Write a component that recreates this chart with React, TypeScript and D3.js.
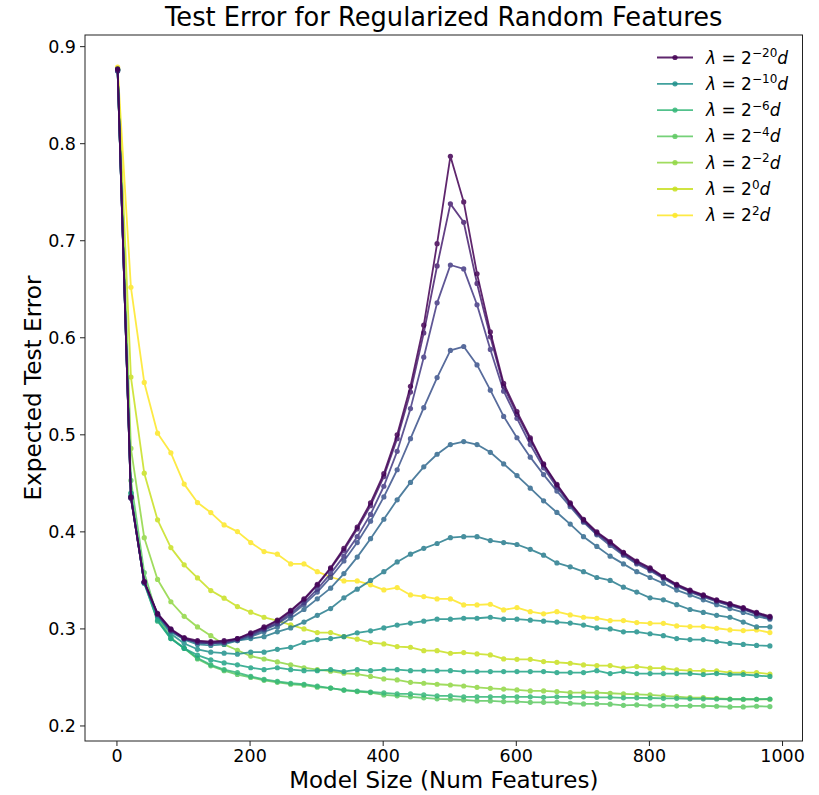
import React from "react";
import * as d3 from "d3";

const modelSizes = [1, 21, 41, 61, 81, 101, 121, 141, 161, 181, 201, 221, 241, 261, 281, 301, 321, 341, 361, 381, 401, 421, 441, 461, 481, 501, 521, 541, 561, 581, 601, 621, 641, 661, 681, 701, 721, 741, 761, 781, 801, 821, 841, 861, 881, 901, 921, 941, 961, 981];

const serA = [0.877, 0.436, 0.349, 0.316, 0.300, 0.291, 0.288, 0.287, 0.288, 0.290, 0.296, 0.302, 0.309, 0.319, 0.331, 0.346, 0.363, 0.383, 0.405, 0.430, 0.460, 0.500, 0.550, 0.613, 0.697, 0.787, 0.740, 0.666, 0.606, 0.553, 0.524, 0.497, 0.470, 0.449, 0.430, 0.413, 0.400, 0.390, 0.379, 0.370, 0.363, 0.354, 0.346, 0.340, 0.335, 0.330, 0.326, 0.322, 0.317, 0.313];
const serB = [0.876, 0.435, 0.348, 0.315, 0.299, 0.290, 0.287, 0.286, 0.287, 0.290, 0.295, 0.301, 0.308, 0.318, 0.330, 0.345, 0.362, 0.381, 0.403, 0.427, 0.457, 0.496, 0.544, 0.605, 0.674, 0.738, 0.719, 0.656, 0.601, 0.550, 0.521, 0.495, 0.469, 0.448, 0.429, 0.412, 0.399, 0.389, 0.378, 0.369, 0.362, 0.353, 0.345, 0.339, 0.334, 0.329, 0.325, 0.321, 0.316, 0.312];
const serC = [0.876, 0.435, 0.348, 0.315, 0.299, 0.290, 0.286, 0.285, 0.286, 0.289, 0.294, 0.300, 0.306, 0.316, 0.327, 0.341, 0.357, 0.375, 0.395, 0.418, 0.447, 0.483, 0.527, 0.580, 0.636, 0.675, 0.671, 0.634, 0.588, 0.545, 0.517, 0.490, 0.466, 0.446, 0.428, 0.411, 0.398, 0.388, 0.377, 0.368, 0.361, 0.353, 0.345, 0.339, 0.334, 0.329, 0.325, 0.321, 0.316, 0.312];
const serD = [0.875, 0.435, 0.348, 0.315, 0.299, 0.290, 0.286, 0.285, 0.286, 0.289, 0.293, 0.299, 0.305, 0.314, 0.325, 0.338, 0.353, 0.370, 0.389, 0.411, 0.436, 0.464, 0.496, 0.528, 0.559, 0.587, 0.591, 0.572, 0.546, 0.519, 0.497, 0.477, 0.459, 0.442, 0.426, 0.410, 0.397, 0.386, 0.376, 0.367, 0.360, 0.352, 0.344, 0.338, 0.333, 0.328, 0.324, 0.320, 0.315, 0.311];
const serE = [0.875, 0.436, 0.348, 0.315, 0.298, 0.290, 0.286, 0.285, 0.286, 0.288, 0.292, 0.297, 0.302, 0.311, 0.320, 0.331, 0.342, 0.357, 0.374, 0.393, 0.413, 0.433, 0.451, 0.467, 0.480, 0.490, 0.493, 0.490, 0.482, 0.470, 0.458, 0.445, 0.432, 0.420, 0.408, 0.395, 0.385, 0.375, 0.367, 0.359, 0.353, 0.347, 0.340, 0.335, 0.330, 0.325, 0.321, 0.317, 0.313, 0.310];
const serF = [0.876, 0.436, 0.348, 0.314, 0.297, 0.289, 0.284, 0.283, 0.284, 0.288, 0.290, 0.292, 0.297, 0.301, 0.307, 0.314, 0.321, 0.332, 0.341, 0.350, 0.359, 0.369, 0.377, 0.383, 0.388, 0.394, 0.395, 0.395, 0.391, 0.389, 0.387, 0.382, 0.376, 0.368, 0.364, 0.359, 0.353, 0.350, 0.343, 0.338, 0.332, 0.330, 0.325, 0.320, 0.317, 0.314, 0.312, 0.307, 0.302, 0.302];
const serG = [0.876, 0.437, 0.348, 0.313, 0.295, 0.285, 0.279, 0.276, 0.275, 0.274, 0.276, 0.276, 0.279, 0.281, 0.286, 0.289, 0.290, 0.292, 0.296, 0.298, 0.301, 0.304, 0.306, 0.308, 0.310, 0.310, 0.311, 0.311, 0.312, 0.310, 0.310, 0.309, 0.308, 0.307, 0.306, 0.304, 0.301, 0.300, 0.297, 0.297, 0.295, 0.293, 0.290, 0.289, 0.289, 0.287, 0.285, 0.284, 0.283, 0.2825];
const serH = [0.876, 0.440, 0.347, 0.309, 0.290, 0.280, 0.273, 0.268, 0.265, 0.263, 0.260, 0.258, 0.260, 0.258, 0.257, 0.257, 0.258, 0.256, 0.258, 0.257, 0.258, 0.258, 0.257, 0.257, 0.257, 0.257, 0.256, 0.256, 0.256, 0.256, 0.256, 0.256, 0.256, 0.255, 0.255, 0.255, 0.257, 0.254, 0.256, 0.254, 0.254, 0.254, 0.254, 0.254, 0.253, 0.254, 0.253, 0.253, 0.252, 0.251];
const serI = [0.876, 0.440, 0.347, 0.308, 0.290, 0.280, 0.270, 0.263, 0.258, 0.255, 0.251, 0.248, 0.246, 0.244, 0.243, 0.241, 0.239, 0.237, 0.236, 0.235, 0.234, 0.233, 0.233, 0.232, 0.231, 0.231, 0.230, 0.230, 0.230, 0.230, 0.230, 0.230, 0.2295, 0.230, 0.230, 0.230, 0.2295, 0.2295, 0.229, 0.229, 0.2288, 0.2285, 0.2285, 0.228, 0.228, 0.2278, 0.2275, 0.2275, 0.2275, 0.2278];
const serJ = [0.876, 0.453, 0.358, 0.312, 0.291, 0.280, 0.269, 0.262, 0.257, 0.253, 0.250, 0.247, 0.245, 0.243, 0.242, 0.240, 0.239, 0.237, 0.2354, 0.2344, 0.232, 0.231, 0.230, 0.229, 0.228, 0.2275, 0.2268, 0.2258, 0.2258, 0.2251, 0.2251, 0.2244, 0.2244, 0.2244, 0.2234, 0.2227, 0.2227, 0.2224, 0.2213, 0.2217, 0.221, 0.221, 0.2207, 0.2207, 0.2207, 0.2203, 0.2196, 0.2196, 0.2203, 0.220];
const serK = [0.877, 0.486, 0.394, 0.351, 0.328, 0.313, 0.302, 0.293, 0.284, 0.278, 0.272, 0.269, 0.266, 0.263, 0.260, 0.258, 0.2565, 0.2543, 0.2535, 0.251, 0.2485, 0.2474, 0.245, 0.244, 0.243, 0.2422, 0.2412, 0.2398, 0.2388, 0.238, 0.2371, 0.2361, 0.2361, 0.2354, 0.2343, 0.2343, 0.2343, 0.2337, 0.233, 0.2326, 0.232, 0.231, 0.2302, 0.2292, 0.2292, 0.2285, 0.2278, 0.2275, 0.2275, 0.2275];
const serL = [0.877, 0.5595, 0.4605, 0.4124, 0.3838, 0.366, 0.3525, 0.3395, 0.3317, 0.323, 0.3172, 0.312, 0.3086, 0.3041, 0.300, 0.2962, 0.2962, 0.2921, 0.2894, 0.2859, 0.2845, 0.2818, 0.2811, 0.2776, 0.2776, 0.2749, 0.2756, 0.2742, 0.2732, 0.2691, 0.2687, 0.2687, 0.2663, 0.2656, 0.2646, 0.2629, 0.2622, 0.2622, 0.2595, 0.2612, 0.2595, 0.2595, 0.2577, 0.257, 0.2567, 0.2567, 0.255, 0.255, 0.255, 0.2535];
const serM = [0.879, 0.652, 0.554, 0.5017, 0.4815, 0.4492, 0.4302, 0.4199, 0.4072, 0.4003, 0.389, 0.3797, 0.377, 0.367, 0.367, 0.359, 0.3535, 0.3495, 0.3495, 0.3454, 0.3402, 0.3426, 0.335, 0.3333, 0.3309, 0.3309, 0.3247, 0.3247, 0.3254, 0.3196, 0.322, 0.3178, 0.3155, 0.3178, 0.3144, 0.312, 0.311, 0.3086, 0.3086, 0.3065, 0.3058, 0.3058, 0.3031, 0.3024, 0.3024, 0.3007, 0.299, 0.2983, 0.299, 0.2962];

const seriesValues = [serA, serB, serC, serD, serE, serF, serG, serH, serI, serJ, serK, serL, serM];
// exponent label for legend (null = not in legend)
const legendExponents: (string | null)[] = ["−20", null, null, null, null, null, "−10", null, "−6", "−4", "−2", "0", "2"];

const xTicks = [0, 200, 400, 600, 800, 1000];
const yTicks = [0.2, 0.3, 0.4, 0.5, 0.6, 0.7, 0.8, 0.9];

const FONT = "DejaVu Sans, sans-serif";

export default function App() {
  const W = 819, H = 795;
  const left = 85, right = 802.5, top = 35, bottom = 741;
  const x = d3.scaleLinear().domain([-48, 1030]).range([left, right]);
  const y = d3.scaleLinear().domain([0.1845, 0.912]).range([bottom, top]);
  const n = seriesValues.length;
  const color = (i: number) => d3.interpolateViridis(i / (n - 1));
  const line = d3.line<number>().x((_, i) => x(modelSizes[i])).y((v) => y(v));

  const order = seriesValues.map((_, i) => i).reverse();
  const legendItems = legendExponents
    .map((e, i) => ({ e, i }))
    .filter((d) => d.e !== null);

  return (
    <svg width={W} height={H} style={{ position: "absolute", left: 0, top: 0, background: "#fff" }} fontFamily={FONT}>
      <rect x={0} y={0} width={W} height={H} fill="#fff" />
      <defs>
        <clipPath id="plotclip">
          <rect x={left} y={top} width={right - left} height={bottom - top} />
        </clipPath>
      </defs>
      <g clipPath="url(#plotclip)">
        {order.map((i) => (
          <g key={i} opacity={0.85}>
            <path d={line(seriesValues[i]) || ""} fill="none" stroke={color(i)} strokeWidth={1.8} strokeLinejoin="round" />
            {seriesValues[i].map((v, k) => (
              <circle key={k} cx={x(modelSizes[k])} cy={y(v)} r={2.6} fill={color(i)} />
            ))}
          </g>
        ))}
      </g>
      {/* spines */}
      <rect x={left} y={top} width={right - left} height={bottom - top} fill="none" stroke="#222" strokeWidth={1} />
      {/* x ticks */}
      {xTicks.map((t) => (
        <g key={"x" + t}>
          <line x1={x(t)} x2={x(t)} y1={bottom} y2={bottom + 5} stroke="#222" />
          <text x={x(t)} y={bottom + 21} textAnchor="middle" fontSize={17.5} fill="#000">{t}</text>
        </g>
      ))}
      {yTicks.map((t) => (
        <g key={"y" + t}>
          <line x1={left - 5} x2={left} y1={y(t)} y2={y(t)} stroke="#222" />
          <text x={left - 9} y={y(t) + 6.3} textAnchor="end" fontSize={17.5} fill="#000">{t.toFixed(1)}</text>
        </g>
      ))}
      <text x={(left + right) / 2} y={26} textAnchor="middle" fontSize={25.7} fill="#000">Test Error for Regularized Random Features</text>
      <text x={(left + right) / 2} y={788} textAnchor="middle" fontSize={23} fill="#000">Model Size (Num Features)</text>
      <text transform={`translate(41,${(top + bottom) / 2}) rotate(-90)`} textAnchor="middle" fontSize={23.2} fill="#000">Expected Test Error</text>
      {/* legend */}
      {legendItems.map((d, r) => {
        const ly = 57.5 + r * 26.3;
        return (
          <g key={"leg" + d.i}>
            <line x1={657} x2={693} y1={ly} y2={ly} stroke={color(d.i)} strokeWidth={1.8} opacity={0.85} />
            <circle cx={675} cy={ly} r={2.6} fill={color(d.i)} opacity={0.85} />
            <text x={706} y={ly + 6} fontSize={17} fill="#000">
              <tspan fontStyle="italic">λ</tspan>
              <tspan> = 2</tspan>
              <tspan dy={-6.5} fontSize={12}>{d.e}</tspan>
              <tspan dy={6.5} fontStyle="italic">d</tspan>
            </text>
          </g>
        );
      })}
    </svg>
  );
}
